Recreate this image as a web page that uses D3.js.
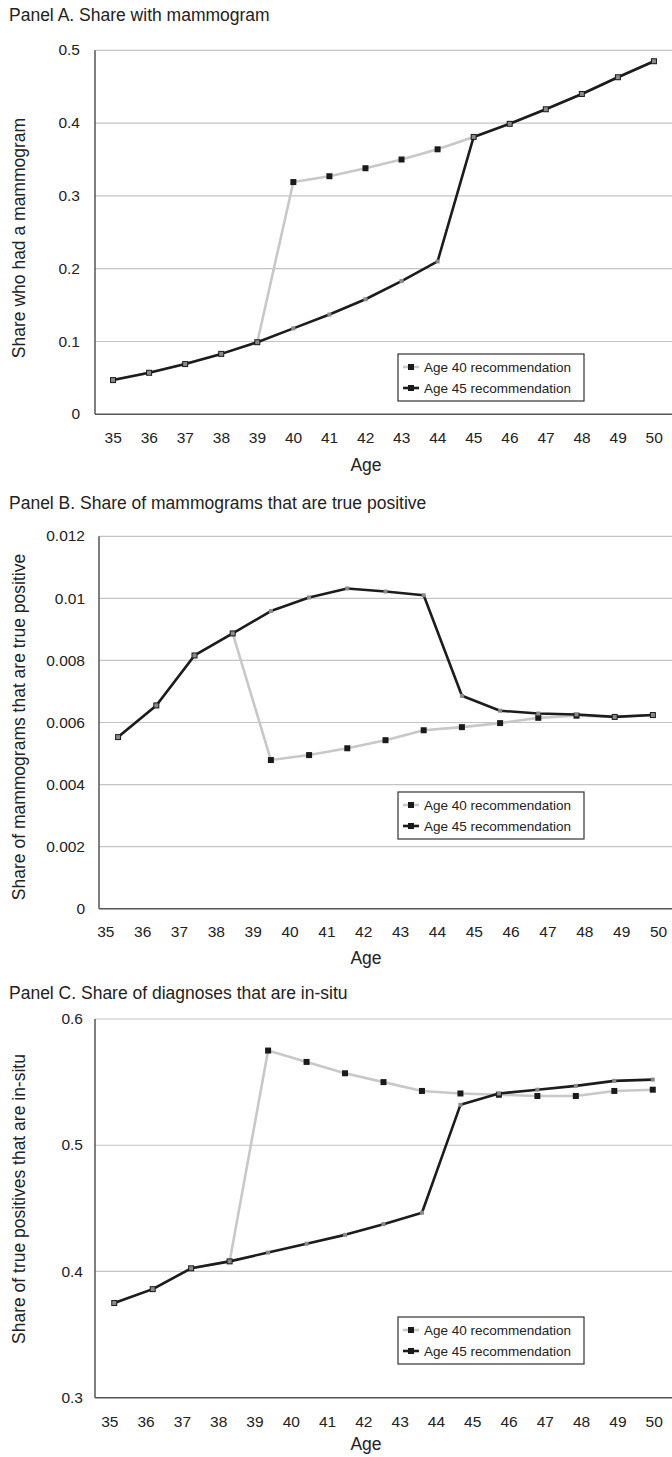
<!DOCTYPE html>
<html>
<head>
<meta charset="utf-8">
<script src="https://cdn.jsdelivr.net/npm/d3@7"></script>
<style>
  html, body { margin: 0; padding: 0; background: #fff; }
  svg { display: block; font-family: "Liberation Sans", Arial, Helvetica, sans-serif; }
</style>
</head>
<body>
<svg id="chart" width="672" height="1457"></svg>
<script>
// Age tick labels shared by all panels
const tickAges = [35, 36, 37, 38, 39, 40, 41, 42, 43, 44, 45, 46, 47, 48, 49, 50];

// Panel A: share who had a mammogram, by age
const agesA = [35, 36, 37, 38, 39, 40, 41, 42, 43, 44, 45, 46, 47, 48, 49, 50];
const shareA40 = [0.047, 0.057, 0.069, 0.083, 0.099, 0.319, 0.327, 0.338, 0.350, 0.364, 0.381, 0.399, 0.419, 0.440, 0.463, 0.485];
const shareA45 = [0.047, 0.057, 0.069, 0.083, 0.099, 0.118, 0.137, 0.158, 0.183, 0.210, 0.381, 0.399, 0.419, 0.440, 0.463, 0.485];

// Panels B and C: fifteen plotted points each
const agesBC = [35, 36, 37, 38, 39, 40, 41, 42, 43, 44, 45, 46, 47, 48, 49];
const trueposB40 = [0.00553, 0.00655, 0.00816, 0.00887, 0.00479, 0.00495, 0.00517, 0.00543, 0.00575, 0.00585, 0.00598, 0.00615, 0.00622, 0.00618, 0.00624];
const trueposB45 = [0.00553, 0.00655, 0.00816, 0.00887, 0.00959, 0.01003, 0.01032, 0.01022, 0.01010, 0.00686, 0.00638, 0.00629, 0.00626, 0.00618, 0.00624];
const insituC40 = [0.375, 0.386, 0.4025, 0.408, 0.575, 0.566, 0.557, 0.550, 0.543, 0.541, 0.540, 0.539, 0.539, 0.543, 0.544];
const insituC45 = [0.375, 0.386, 0.4025, 0.408, 0.415, 0.422, 0.429, 0.4375, 0.4465, 0.532, 0.541, 0.544, 0.547, 0.551, 0.552];

// Y tick values
const ticksA = [0, 0.1, 0.2, 0.3, 0.4, 0.5];
const ticksB = [0, 0.002, 0.004, 0.006, 0.008, 0.01, 0.012];
const ticksC = [0.3, 0.4, 0.5, 0.6];

const seriesNames = ["Age 40 recommendation", "Age 45 recommendation"];

const svg = d3.select("#chart");
const W = 672;
const GREY = "#c8c8c8", BLACK = "#1c1c1c", GRID = "#c4c4c4", AXIS = "#555", TEXT = "#222";

function panel(cfg) {
  const g = svg.append("g");
  const x = d3.scalePoint().domain(cfg.cats).range([cfg.left, W]).padding(0.5);
  const xl = d3.scalePoint().domain(tickAges).range(cfg.labelRange);
  const y = d3.scaleLinear().domain(cfg.domain).range([cfg.bottom, cfg.top]);

  // title
  g.append("text").attr("x", 9).attr("y", cfg.titleY)
    .attr("font-size", 17.5).attr("fill", TEXT).text(cfg.title);

  // horizontal gridlines
  g.selectAll(".grid").data(cfg.ticks.slice(1)).join("line")
    .attr("x1", cfg.left).attr("x2", W)
    .attr("y1", d => y(d)).attr("y2", d => y(d))
    .attr("stroke", GRID).attr("stroke-width", 1.2);

  // y axis labels
  const yAxis = d3.axisLeft(y).tickValues(cfg.ticks).tickSize(0).tickPadding(0)
    .tickFormat(d => d3.format("~g")(d));
  const ya = g.append("g").attr("transform", `translate(${cfg.yLabelX},0)`).call(yAxis);
  ya.select(".domain").remove();
  ya.selectAll("text").attr("font-size", 15.5).attr("fill", TEXT)
    .attr("font-family", "Liberation Sans, Arial, sans-serif").attr("dy", "0.3em");

  // x axis labels
  const xAxis = d3.axisBottom(xl).tickSize(0).tickPadding(0);
  const xa = g.append("g").attr("transform", `translate(0,${cfg.xLabelY})`).call(xAxis);
  xa.select(".domain").remove();
  xa.selectAll("text").attr("font-size", 15.5).attr("fill", TEXT)
    .attr("font-family", "Liberation Sans, Arial, sans-serif").attr("dy", 0);

  // axis lines
  g.append("line").attr("x1", cfg.left).attr("x2", cfg.left)
    .attr("y1", cfg.top).attr("y2", cfg.bottom).attr("stroke", AXIS).attr("stroke-width", 1.5);
  g.append("line").attr("x1", cfg.left).attr("x2", W)
    .attr("y1", cfg.bottom).attr("y2", cfg.bottom).attr("stroke", AXIS).attr("stroke-width", 1.5);

  // axis titles
  g.append("text").attr("x", 366).attr("y", cfg.ageY).attr("text-anchor", "middle")
    .attr("font-size", 17.5).attr("fill", TEXT).text("Age");
  g.append("text")
    .attr("transform", `translate(25,${cfg.yTitleMid}) rotate(-90)`)
    .attr("text-anchor", "middle").attr("font-size", 17.5).attr("fill", TEXT)
    .text(cfg.yTitle);

  const line = d3.line().x(d => x(d[0])).y(d => y(d[1]));
  const pts40 = cfg.cats.map((c, i) => [c, cfg.s40[i]]);
  const pts45 = cfg.cats.map((c, i) => [c, cfg.s45[i]]);

  // Age 40 recommendation: light grey line, dark square markers
  g.append("path").datum(pts40).attr("d", line).attr("fill", "none")
    .attr("stroke", GREY).attr("stroke-width", 2.6).attr("stroke-linejoin", "round");
  g.selectAll(".m40").data(pts40).join("rect")
    .attr("x", d => x(d[0]) - 3).attr("y", d => y(d[1]) - 3)
    .attr("width", 6).attr("height", 6).attr("fill", "#1a1a1a");

  // Age 45 recommendation: black line, small grey markers
  g.append("path").datum(pts45).attr("d", line).attr("fill", "none")
    .attr("stroke", BLACK).attr("stroke-width", 2.6).attr("stroke-linejoin", "round");
  g.selectAll(".m45").data(pts45).join("rect")
    .attr("x", d => x(d[0]) - 2).attr("y", d => y(d[1]) - 2)
    .attr("width", 4).attr("height", 4).attr("fill", "#8a8a8a");

  // legend
  const lg = g.append("g").attr("transform", `translate(398,${cfg.legendTop})`);
  lg.append("rect").attr("x", 0).attr("y", 0).attr("width", 186).attr("height", 47)
    .attr("fill", "#fff").attr("stroke", "#333").attr("stroke-width", 1.2);
  const rows = [
    { name: seriesNames[0], stroke: GREY, dy: 13 },
    { name: seriesNames[1], stroke: BLACK, dy: 34 }
  ];
  rows.forEach(r => {
    lg.append("line").attr("x1", 5).attr("x2", 21).attr("y1", r.dy).attr("y2", r.dy)
      .attr("stroke", r.stroke).attr("stroke-width", 2.6);
    lg.append("rect").attr("x", 10).attr("y", r.dy - 3).attr("width", 6).attr("height", 6)
      .attr("fill", "#1a1a1a");
    lg.append("text").attr("x", 26).attr("y", r.dy).attr("dy", "0.35em")
      .attr("font-size", 13.5).attr("fill", TEXT).text(r.name);
  });
}

panel({
  title: "Panel A. Share with mammogram", titleY: 21,
  cats: agesA, s40: shareA40, s45: shareA45,
  left: 95, top: 50.3, bottom: 414.3, domain: [0, 0.5], ticks: ticksA,
  labelRange: [112.7, 653.7], xLabelY: 443, ageY: 471, yLabelX: 80,
  yTitle: "Share who had a mammogram", yTitleMid: 238, legendTop: 354
});

panel({
  title: "Panel B. Share of mammograms that are true positive", titleY: 509,
  cats: agesBC, s40: trueposB40, s45: trueposB45,
  left: 99, top: 536.3, bottom: 908.7, domain: [0, 0.012], ticks: ticksB,
  labelRange: [105.3, 658], xLabelY: 936.5, ageY: 964, yLabelX: 85,
  yTitle: "Share of mammograms that are true positive", yTitleMid: 727, legendTop: 792
});

panel({
  title: "Panel C. Share of diagnoses that are in-situ", titleY: 999,
  cats: agesBC, s40: insituC40, s45: insituC45,
  left: 95, top: 1019, bottom: 1397.7, domain: [0.3, 0.6], ticks: ticksC,
  labelRange: [109.3, 653.7], xLabelY: 1426.5, ageY: 1450, yLabelX: 83,
  yTitle: "Share of true positives that are in-situ", yTitleMid: 1199, legendTop: 1317
});
</script>
</body>
</html>
